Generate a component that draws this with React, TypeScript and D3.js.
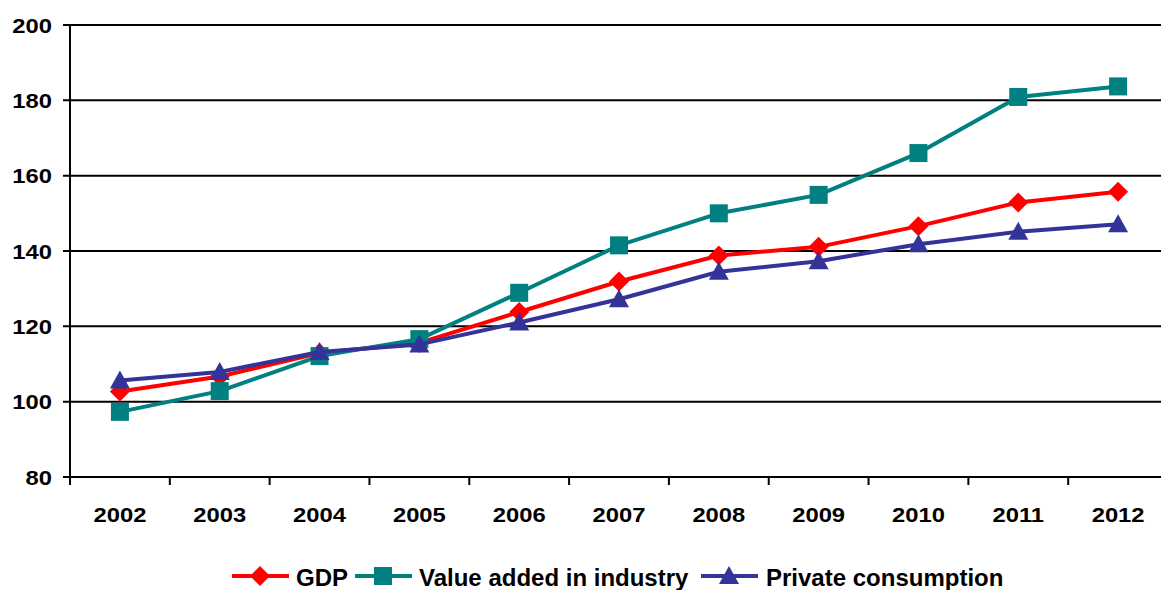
import React from "react";
import * as d3 from "d3";

const years = ["2002","2003","2004","2005","2006","2007","2008","2009","2010","2011","2012"];
const gdp = [102.7, 106.7, 112.9, 115.6, 123.8, 131.9, 138.8, 141.1, 146.6, 152.9, 155.7];
const industry = [97.3, 102.8, 112.1, 116.6, 128.9, 141.5, 150.0, 154.9, 166.0, 180.9, 183.7];
const privateCons = [105.6, 107.9, 113.2, 115.2, 121.0, 127.2, 134.5, 137.3, 141.8, 145.1, 147.1];
const yTicks = [80, 100, 120, 140, 160, 180, 200];
const seriesNames = ["GDP", "Value added in industry", "Private consumption"];

const W = 1161, H = 590;
const left = 70, right = 1168, top = 25, bottom = 477;
const FONT = "'Liberation Sans', Arial, sans-serif";

const colors = ["#FF0000", "#008080", "#333399"];

function Marker({ kind, x, y, color }: { kind: number; x: number; y: number; color: string }) {
  if (kind === 0) {
    const s = 10;
    return <path d={`M${x},${y - s}L${x + s},${y}L${x},${y + s}L${x - s},${y}Z`} fill={color} />;
  }
  if (kind === 1) {
    const s = 9;
    return <rect x={x - s} y={y - s} width={2 * s} height={2 * s} fill={color} />;
  }
  const s = 10;
  return <path d={`M${x},${y - s}L${x + s},${y + 8}L${x - s},${y + 8}Z`} fill={color} />;
}

function WideText({ x, y, anchor, children }: { x: number; y: number; anchor: string; children: React.ReactNode }) {
  return (
    <text transform={`translate(${x},${y}) scale(1.16,1)`} textAnchor={anchor} fontSize={20.5} fontWeight="bold">
      {children}
    </text>
  );
}

export default function App() {
  const x = d3.scaleBand<string>().domain(years).range([left, right]);
  const y = d3.scaleLinear().domain([80, 200]).range([bottom, top]);
  const data = [gdp, industry, privateCons];
  const line = d3
    .line<number>()
    .x((_, i) => (x(years[i]) as number) + x.bandwidth() / 2)
    .y((d) => y(d));

  const legendItems = [
    { sx: 232, tx: 296 },
    { sx: 355, tx: 419 },
    { sx: 701, tx: 766 },
  ];
  const ly = 576;

  return (
    <svg width={W} height={H} style={{ position: "absolute", left: 0, top: 0, background: "#fff" }} fontFamily={FONT}>
      <rect width={W} height={H} fill="#fff" />
      {yTicks.map((t) => (
        <g key={t}>
          <line x1={left - 7} x2={W} y1={y(t)} y2={y(t)} stroke="#000" strokeWidth={2} />
          <WideText x={52} y={y(t) + 7.5} anchor="end">{t}</WideText>
        </g>
      ))}
      <line x1={left} x2={left} y1={top} y2={bottom + 8} stroke="#000" strokeWidth={2} />
      {years.map((yr, i) => {
        const x0 = x(yr) as number;
        return (
          <g key={yr}>
            {i > 0 && <line x1={x0} x2={x0} y1={bottom} y2={bottom + 8} stroke="#000" strokeWidth={2} />}
            <WideText x={x0 + x.bandwidth() / 2} y={522} anchor="middle">{yr}</WideText>
          </g>
        );
      })}
      {data.map((s, k) => (
        <g key={k}>
          <path d={line(s) as string} fill="none" stroke={colors[k]} strokeWidth={4} strokeLinejoin="round" />
          {s.map((v, i) => (
            <Marker key={i} kind={k} x={(x(years[i]) as number) + x.bandwidth() / 2} y={y(v)} color={colors[k]} />
          ))}
        </g>
      ))}
      {legendItems.map((it, k) => (
        <g key={k}>
          <line x1={it.sx} x2={it.sx + 57} y1={ly} y2={ly} stroke={colors[k]} strokeWidth={4} />
          <Marker kind={k} x={it.sx + 28} y={ly} color={colors[k]} />
          <text x={it.tx} y={ly + 9.5} fontSize={24} fontWeight="bold">
            {seriesNames[k]}
          </text>
        </g>
      ))}
    </svg>
  );
}
